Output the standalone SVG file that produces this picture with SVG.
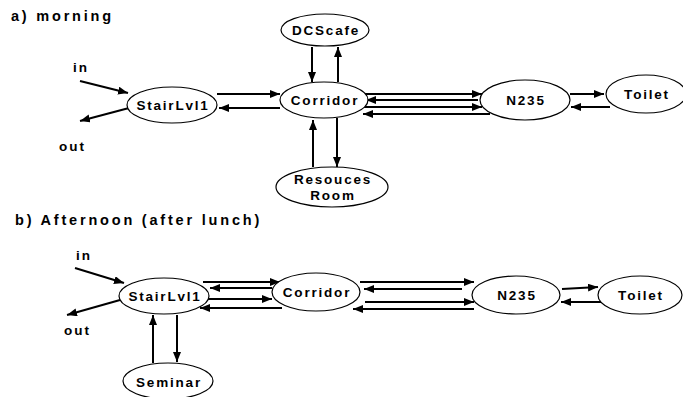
<svg xmlns="http://www.w3.org/2000/svg" width="683" height="397" viewBox="0 0 683 397">
<defs>
<marker id="ah" markerUnits="userSpaceOnUse" markerWidth="11" markerHeight="9" refX="10" refY="4" orient="auto"><path d="M0,0 L10,4 L0,8 z" fill="#000"/></marker>
<style>
.n ellipse{fill:#fff;stroke:#000;stroke-width:1.2}
text{font-family:"Liberation Sans",Arial,sans-serif;font-weight:bold;fill:#000}
.t{font-size:13.5px;letter-spacing:1.8px;text-anchor:middle}
.h{font-size:14.5px;letter-spacing:2.8px}
.l{font-size:13.5px;letter-spacing:2px}
#edges line{stroke:#000;stroke-width:2;marker-end:url(#ah)}
</style>
</defs>
<rect width="683" height="397" fill="#fff"/>
<text class="h" x="11" y="21">a) morning</text>
<text class="h" x="15" y="225">b) Afternoon (after lunch)</text>
<text class="l" x="73" y="72">in</text>
<text class="l" x="59" y="151">out</text>
<text class="l" x="76" y="260">in</text>
<text class="l" x="64" y="335">out</text>
<g id="edges">
<line x1="80" y1="81" x2="128" y2="93"/>
<line x1="129" y1="108" x2="80" y2="121"/>
<line x1="217" y1="94" x2="280" y2="94"/>
<line x1="280" y1="108" x2="219" y2="108"/>
<line x1="312" y1="47" x2="312" y2="82"/>
<line x1="338" y1="82" x2="338" y2="47"/>
<line x1="313" y1="167" x2="313" y2="120"/>
<line x1="337" y1="118" x2="337" y2="167"/>
<line x1="365" y1="94" x2="482" y2="94"/>
<line x1="478" y1="100" x2="366" y2="100"/>
<line x1="363" y1="107" x2="482" y2="107"/>
<line x1="490" y1="114" x2="363" y2="114"/>
<line x1="570" y1="94" x2="604" y2="94"/>
<line x1="610" y1="107" x2="571" y2="107"/>
<line x1="75" y1="268" x2="124" y2="283"/>
<line x1="120" y1="300" x2="67" y2="315"/>
<line x1="203" y1="282" x2="280" y2="282"/>
<line x1="272" y1="288" x2="210" y2="288"/>
<line x1="208" y1="299" x2="272" y2="299"/>
<line x1="282" y1="308" x2="200" y2="308"/>
<line x1="153" y1="363" x2="153" y2="315"/>
<line x1="177" y1="315" x2="177" y2="362"/>
<line x1="360" y1="282" x2="474" y2="282"/>
<line x1="462" y1="289" x2="364" y2="289"/>
<line x1="365" y1="302" x2="474" y2="302"/>
<line x1="474" y1="309" x2="353" y2="309"/>
<line x1="562" y1="289" x2="598" y2="287"/>
<line x1="603" y1="302" x2="561" y2="302"/>
</g>
<g id="a_stair" class="n"><ellipse cx="172" cy="105" rx="45" ry="18"/><text class="t" x="173" y="110">StairLvl1</text></g>
<g id="a_dcscafe" class="n"><ellipse cx="325" cy="30" rx="44" ry="16"/><text class="t" x="326" y="35">DCScafe</text></g>
<g id="a_corridor" class="n"><ellipse cx="324" cy="100" rx="44" ry="18"/><text class="t" x="325" y="105">Corridor</text></g>
<g id="a_resources" class="n"><ellipse cx="332" cy="187" rx="56" ry="20"/><text class="t" x="333" y="184">Resouces</text><text class="t" x="333" y="200">Room</text></g>
<g id="a_n235" class="n"><ellipse cx="525" cy="100" rx="45" ry="20"/><text class="t" x="526" y="105">N235</text></g>
<g id="a_toilet" class="n"><ellipse cx="646" cy="94" rx="40" ry="19"/><text class="t" x="647" y="99">Toilet</text></g>
<g id="b_stair" class="n"><ellipse cx="164" cy="296" rx="45" ry="18"/><text class="t" x="165" y="301">StairLvl1</text></g>
<g id="b_corridor" class="n"><ellipse cx="316" cy="292" rx="44" ry="19"/><text class="t" x="317" y="297">Corridor</text></g>
<g id="b_n235" class="n"><ellipse cx="516" cy="295" rx="44" ry="19"/><text class="t" x="517" y="300">N235</text></g>
<g id="b_toilet" class="n"><ellipse cx="640" cy="295" rx="42" ry="19"/><text class="t" x="641" y="300">Toilet</text></g>
<g id="b_seminar" class="n"><ellipse cx="168" cy="381" rx="45" ry="18"/><text class="t" x="169" y="387">Seminar</text></g>
</svg>
